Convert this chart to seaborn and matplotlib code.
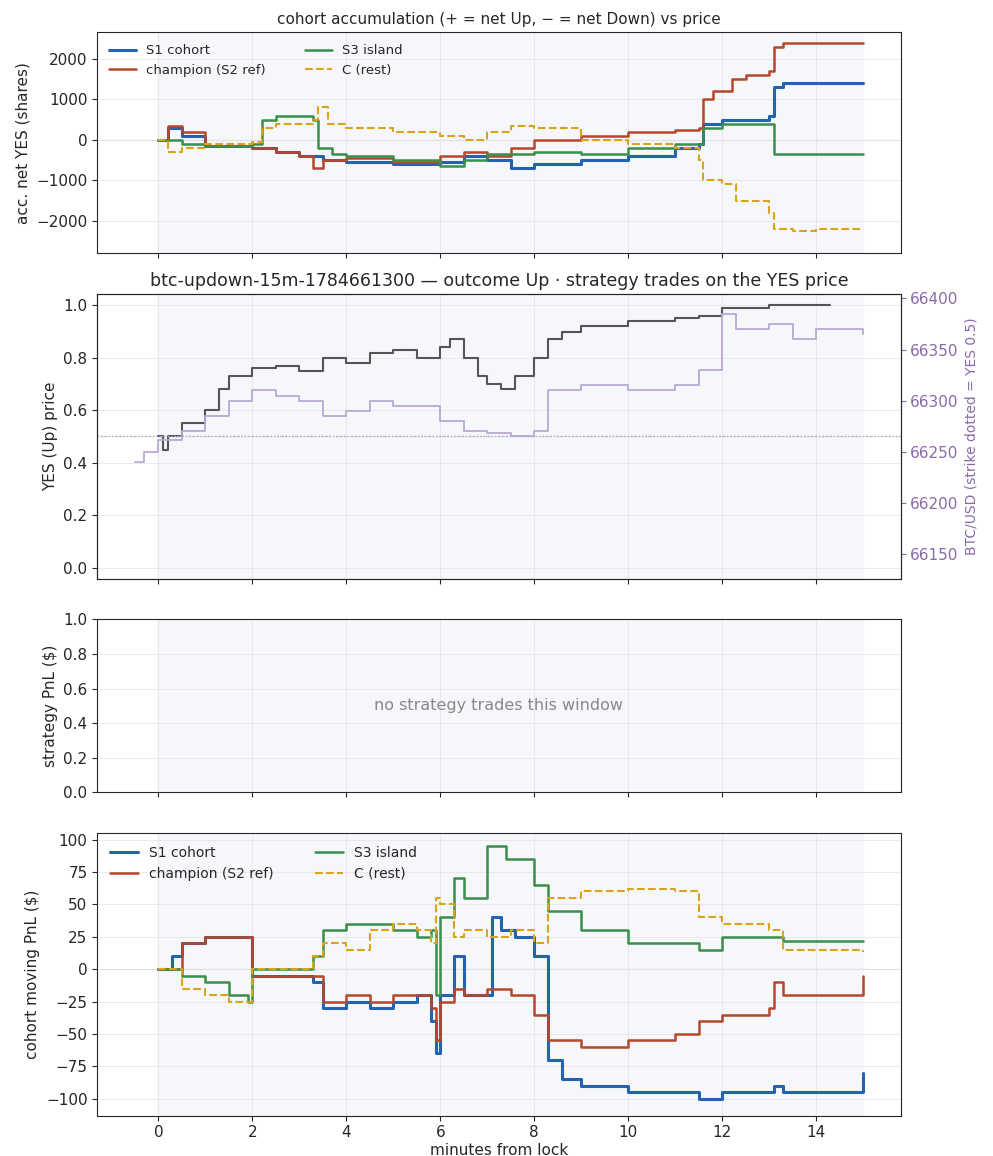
import matplotlib
matplotlib.use("Agg")
import matplotlib.pyplot as plt
import seaborn as sns
import pandas as pd

# ---- panel 1: cohort accumulation (shares) ----
acc_t = {
    "S1 cohort": [0, 0.2, 0.5, 1, 2, 2.5, 3, 3.5, 4, 5, 6, 6.5, 7, 7.5, 8, 9, 10, 11, 11.5, 11.6, 12, 13, 13.1, 13.3, 15],
    "champion (S2 ref)": [0, 0.2, 0.5, 1, 2, 2.5, 3, 3.3, 3.5, 4, 5, 6, 6.5, 7, 7.5, 8, 9, 10, 11, 11.5, 11.6, 11.8, 12.2, 12.5, 13, 13.1, 13.3, 15],
    "S3 island": [0, 0.5, 1, 2, 2.2, 2.5, 3.3, 3.4, 3.7, 4, 5, 6, 6.5, 7, 8, 9, 10, 11, 11.6, 12, 13, 13.1, 15],
    "C (rest)": [0, 0.2, 0.5, 1, 2, 2.2, 2.5, 3.3, 3.4, 3.6, 4, 5, 6, 6.5, 7, 7.5, 8, 9, 10, 11, 11.5, 11.6, 12, 12.3, 13, 13.1, 13.5, 14, 15],
}
acc_v = {
    "S1 cohort": [0, 300, 100, -150, -200, -300, -400, -500, -550, -600, -550, -400, -500, -700, -600, -500, -400, -200, -100, 400, 500, 600, 1300, 1400, 1400],
    "champion (S2 ref)": [0, 350, 200, -150, -200, -300, -400, -700, -500, -450, -550, -400, -300, -400, -200, 0, 100, 200, 250, 300, 1000, 1200, 1500, 1600, 1700, 2300, 2400, 2400],
    "S3 island": [0, -100, -150, -100, 500, 600, 500, -200, -350, -400, -500, -650, -500, -350, -300, -350, -200, -100, 300, 400, 400, -350, -350],
    "C (rest)": [0, -300, -200, -100, -50, 300, 400, 500, 800, 400, 300, 200, 100, 0, 200, 350, 300, 0, -100, -200, -500, -1000, -1100, -1500, -1800, -2200, -2250, -2200, -2200],
}

# ---- panel 2: YES price and BTC ----
yes_t = [0, 0.1, 0.2, 0.5, 1, 1.3, 1.5, 2, 2.5, 3, 3.5, 4, 4.5, 5, 5.5, 6, 6.2, 6.5, 6.8, 7, 7.3, 7.6, 8, 8.3, 8.6, 9, 10, 11, 11.5, 12, 13, 14.3]
yes_p = [0.5, 0.45, 0.5, 0.55, 0.6, 0.68, 0.73, 0.76, 0.77, 0.75, 0.8, 0.78, 0.82, 0.83, 0.8, 0.84, 0.87, 0.8, 0.73, 0.7, 0.68, 0.73, 0.8, 0.87, 0.9, 0.92, 0.94, 0.95, 0.96, 0.99, 1.0, 1.0]
btc_t = [-0.5, -0.3, 0, 0.5, 1, 1.5, 2, 2.5, 3, 3.5, 4, 4.5, 5, 6, 6.5, 7, 7.5, 8, 8.3, 9, 10, 11, 11.5, 12, 12.3, 13, 13.5, 14, 15]
btc_p = [66240, 66250, 66262, 66270, 66285, 66300, 66310, 66305, 66300, 66285, 66290, 66300, 66295, 66280, 66270, 66268, 66265, 66270, 66310, 66315, 66310, 66315, 66330, 66385, 66370, 66375, 66360, 66370, 66365]
strike = 66265

# ---- panel 4: cohort moving PnL ($) ----
pnl_t = {
    "S1 cohort": [0, 0.3, 0.5, 1, 1.9, 2, 3, 3.3, 3.5, 4, 4.5, 5, 5.5, 5.8, 5.9, 6, 6.3, 6.5, 7, 7.1, 7.3, 7.6, 8, 8.3, 8.6, 9, 10, 11, 11.5, 12, 13, 13.1, 13.3, 15, 15],
    "champion (S2 ref)": [0, 0.5, 1, 1.9, 2, 3, 3.5, 4, 4.5, 5, 5.8, 5.9, 6, 6.3, 6.5, 7, 7.5, 8, 8.3, 9, 10, 11, 11.5, 12, 13, 13.1, 13.3, 15, 15],
    "S3 island": [0, 0.5, 1, 1.5, 1.9, 2, 3, 3.3, 3.5, 4, 5, 5.5, 5.8, 5.9, 6, 6.3, 6.5, 7, 7.4, 8, 8.3, 9, 10, 11, 11.5, 12, 13, 13.3, 15],
    "C (rest)": [0, 0.5, 1, 1.5, 1.9, 2, 3, 3.3, 3.5, 4, 4.5, 5, 5.5, 5.8, 5.9, 6, 6.3, 6.5, 7, 7.5, 8, 8.3, 9, 10, 11, 11.5, 12, 13, 13.3, 15],
}
pnl_v = {
    "S1 cohort": [0, 10, 20, 25, 25, -5, -5, -10, -30, -25, -30, -25, -20, -40, -65, -20, 10, -20, -20, 40, 30, 25, 10, -70, -85, -90, -95, -95, -100, -95, -95, -90, -95, -95, -80],
    "champion (S2 ref)": [0, 20, 25, 25, -5, -5, -25, -20, -25, -20, -30, -55, -25, -15, -20, -15, -20, -35, -55, -60, -55, -50, -40, -35, -30, -10, -20, -20, -5],
    "S3 island": [0, -5, -10, -20, -25, 0, 0, 10, 30, 35, 30, 25, 30, -20, 40, 70, 55, 95, 85, 65, 45, 30, 20, 20, 15, 25, 25, 22, 22],
    "C (rest)": [0, -15, -20, -25, -25, 0, 0, 10, 20, 15, 30, 35, 30, 20, 55, 50, 25, 30, 25, 30, 20, 55, 60, 62, 60, 40, 35, 30, 15, 13],
}

COLORS = {"S1 cohort": "#2563b0", "champion (S2 ref)": "#b5472a",
          "S3 island": "#3a8f4a", "C (rest)": "#dba21c"}
WIDTHS = {"S1 cohort": 2.2, "champion (S2 ref)": 1.8, "S3 island": 1.8, "C (rest)": 1.5}


def to_frame(ts, vs):
    rows = []
    for name in ts:
        for t, v in zip(ts[name], vs[name]):
            rows.append({"t": t, "v": v, "series": name})
    return pd.DataFrame(rows)


def draw_cohorts(ax, ts, vs, fs):
    df = to_frame(ts, vs)
    for name in ts:
        sub = df[df["series"] == name]
        sns.lineplot(data=sub, x="t", y="v", ax=ax, color=COLORS[name], lw=WIDTHS[name],
                     drawstyle="steps-post", estimator=None, sort=False, label=name,
                     linestyle="--" if name == "C (rest)" else "-")
    ax.axhline(0, color="#cccccc", lw=0.8, zorder=0)
    ax.legend(loc="upper left", ncol=2, frameon=False, fontsize=fs, columnspacing=3)


sns.set_style("ticks")
plt.rcParams["font.family"] = ["DejaVu Sans"]
fig, axes = plt.subplots(4, 1, figsize=(9.93, 11.56), sharex=True,
                         gridspec_kw={"height_ratios": [220, 283, 172, 281], "hspace": 0.17})
fig.subplots_adjust(left=0.098, right=0.907, top=0.972, bottom=0.027 + 0.001)

for ax in axes:
    ax.axvspan(0, 15, color="#f5f7fb", zorder=-2)
    ax.grid(True, color="#e6e6e6", lw=0.6)
    ax.set_axisbelow(True)

ax1 = axes[0]
draw_cohorts(ax1, acc_t, acc_v, 9.5)
ax1.set_ylim(-2800, 2650)
ax1.set_ylabel("acc. net YES (shares)", fontsize=11)
ax1.set_title("cohort accumulation (+ = net Up, \u2212 = net Down) vs price", fontsize=11)

ax2 = axes[1]
sns.lineplot(x=yes_t, y=yes_p, ax=ax2, color="#555555", lw=1.5, drawstyle="steps-post",
             estimator=None, sort=False)
ax2.axhline(0.5, color="#aaaaaa", lw=1, ls=":")
ax2.set_ylim(-0.042, 1.042)
ax2.set_ylabel("YES (Up) price", fontsize=11)
ax2.set_title("btc-updown-15m-1784661300 \u2014 outcome Up \u00b7 strategy trades on the YES price",
              fontsize=12.5)
ax2r = ax2.twinx()
sns.lineplot(x=btc_t, y=btc_p, ax=ax2r, color="#b9a8d3", lw=1.3, drawstyle="steps-post",
             estimator=None, sort=False)
ax2r.axhline(strike, color="#b9a8d3", lw=0.8, ls=":")
ax2r.set_ylim(66126, 66404)
ax2r.set_ylabel("BTC/USD (strike dotted = YES 0.5)", color="#8a6aa8", fontsize=10)
ax2r.tick_params(axis="y", colors="#8a6aa8", labelsize=11)

ax3 = axes[2]
ax3.set_ylim(0, 1)
ax3.set_ylabel("strategy PnL ($)", fontsize=11)
ax3.text(0.5, 0.5, "no strategy trades this window", transform=ax3.transAxes,
         ha="center", va="center", color="#888888", fontsize=11.5)

ax4 = axes[3]
draw_cohorts(ax4, pnl_t, pnl_v, 10)
ax4.set_ylim(-113, 105)
ax4.set_ylabel("cohort moving PnL ($)", fontsize=11)
ax4.set_xlim(-1.3, 15.8)
ax4.set_xticks([0, 2, 4, 6, 8, 10, 12, 14])

for ax in axes:
    ax.tick_params(labelsize=11)
    ax.set_xlabel("")
ax4.set_xlabel("minutes from lock", fontsize=11, labelpad=2)

fig.subplots_adjust(bottom=0.035)
fig.savefig("out.png", dpi=100)
